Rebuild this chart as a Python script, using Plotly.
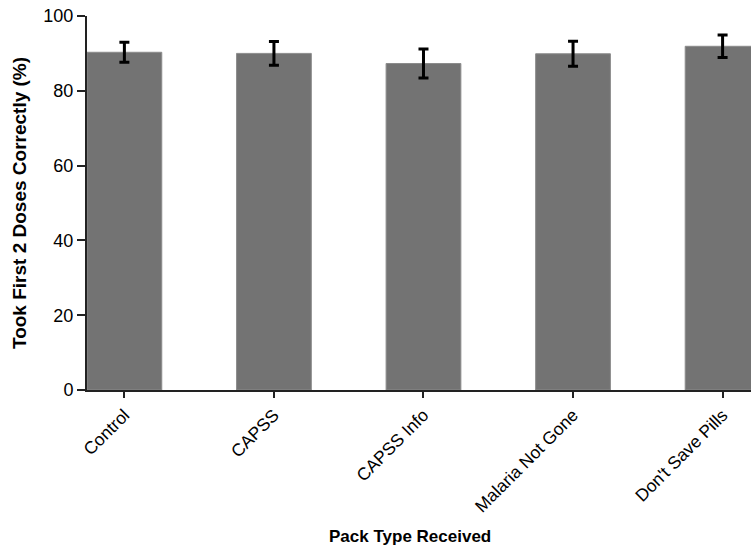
import plotly.graph_objects as go

# Share of participants taking the first two doses correctly, by pack type
pack_types = ["Control", "CAPSS", "CAPSS Info", "Malaria Not Gone", "Don't Save Pills"]
pct_correct = [90.3, 90.0, 87.3, 89.9, 91.9]
err_half = [2.65, 3.15, 3.85, 3.35, 3.0]

FONT = "Liberation Sans, Arial, sans-serif"

fig = go.Figure(
    go.Bar(
        x=pack_types,
        y=pct_correct,
        width=0.5,
        marker=dict(color="#737373", line=dict(color="#8c8c8c", width=1)),
        error_y=dict(type="data", array=err_half, visible=True,
                     color="black", thickness=3, width=5),
    )
)

fig.update_layout(
    width=751, height=550,
    margin=dict(l=87, r=0, t=16, b=160),
    plot_bgcolor="white", paper_bgcolor="white",
    showlegend=False,
    font=dict(family=FONT, color="black"),
    bargap=0.5,
)

fig.update_xaxes(
    range=[-0.25, 4.19],
    showline=True, linecolor="#222222", linewidth=2,
    ticks="outside", ticklen=6, tickwidth=1.5, tickcolor="#222222",
    tickangle=-45, tickfont=dict(size=17.5, family=FONT),
    showgrid=False, zeroline=False,
)

fig.update_yaxes(
    range=[0, 100], tickvals=[0, 20, 40, 60, 80, 100],
    showline=True, linecolor="#222222", linewidth=2,
    ticks="outside", ticklen=8, tickwidth=1.5, tickcolor="#222222",
    tickfont=dict(size=18, family=FONT),
    showgrid=False, zeroline=False,
    title=dict(text="<b>Took First 2 Doses Correctly (%)</b>",
               font=dict(size=19, family=FONT), standoff=12),
)

fig.add_annotation(
    text="<b>Pack Type Received</b>", xref="paper", yref="paper",
    x=(410 - 87) / 664, y=-(536 - 390) / 374, xanchor="center", yanchor="middle",
    showarrow=False, font=dict(size=17, family=FONT),
)

fig.write_html("out.html")
